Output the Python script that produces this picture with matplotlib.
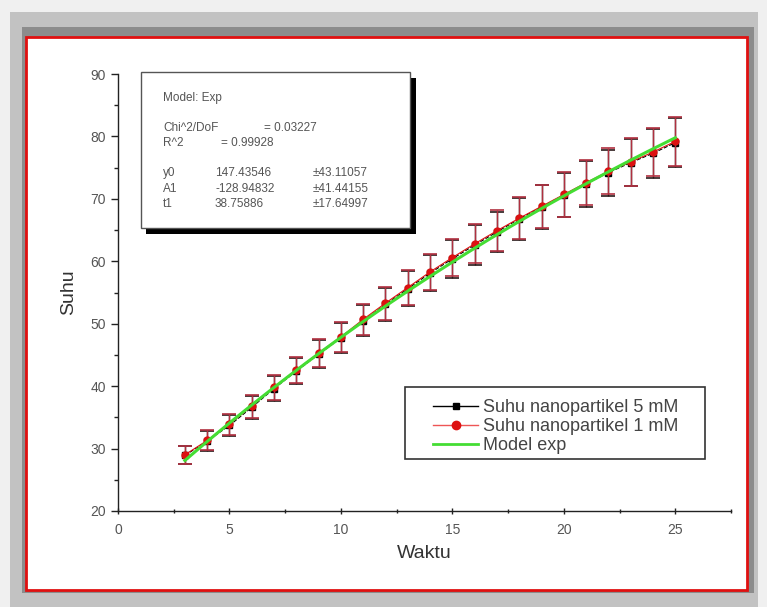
import numpy as np
import matplotlib
matplotlib.use("Agg")
import matplotlib.pyplot as plt
from matplotlib.patches import Rectangle
from matplotlib.lines import Line2D

plt.rcParams['font.family'] = ['Liberation Sans', 'DejaVu Sans']

# waktu (menit) dan suhu hasil pengukuran
waktu = [3, 4, 5, 6, 7, 8, 9, 10, 11, 12, 13, 14, 15, 16, 17, 18, 19, 20, 21, 22, 23, 24, 25]
suhu_5mM = [28.9, 31.2, 33.7, 36.6, 39.6, 42.4, 45.1, 47.7, 50.5, 53.1, 55.6, 58.1, 60.4,
            62.6, 64.7, 66.8, 68.7, 70.6, 72.4, 74.2, 75.8, 77.3, 79.0]
suhu_1mM = [29.0, 31.3, 33.9, 36.8, 39.8, 42.6, 45.3, 47.9, 50.7, 53.3, 55.8, 58.3, 60.6,
            62.8, 64.9, 66.9, 68.8, 70.7, 72.6, 74.4, 75.9, 77.5, 79.2]
galat = [1.45, 1.6, 1.7, 1.85, 2.0, 2.1, 2.25, 2.4, 2.5, 2.65, 2.8, 2.9, 3.0,
         3.15, 3.25, 3.35, 3.45, 3.55, 3.65, 3.7, 3.8, 3.9, 3.95]

# parameter fit model eksponensial
y0, A1, t1 = 147.43546, -128.94832, 38.75886
chi2 = 0.03227
r2 = 0.99928
galat_param = [43.11057, 41.44155, 17.64997]

label_seri = ['Suhu nanopartikel 5 mM', 'Suhu nanopartikel 1 mM', 'Model exp']

W, H = 767, 607
fig = plt.figure(figsize=(W / 100, H / 100), dpi=100)
fig.patch.set_facecolor('#f0f0f0')


def kotak(x0, y0_, x1, y1, **kw):
    # kotak dalam koordinat piksel (y dari atas)
    r = Rectangle((x0 / W, 1 - y1 / H), (x1 - x0) / W, (y1 - y0_) / H,
                  transform=fig.transFigure, **kw)
    fig.patches.append(r)
    return r


# bingkai abu-abu dan bingkai merah
kotak(10, 12, 758, 607, facecolor='#c2c2c2', edgecolor='none', zorder=-10)
kotak(22, 27, 754, 593, facecolor='#8c8c8c', edgecolor='none', zorder=-9)
kotak(26, 37, 747, 590, facecolor='white', edgecolor='#e01010', lw=2, zorder=-8)

ax = fig.add_axes([118 / W, 1 - 511 / H, (731 - 118) / W, (511 - 74) / H])
ax.set_facecolor('none')

x = np.array(waktu)
xm = np.linspace(3, 25, 200)
ym = y0 + A1 * np.exp(-xm / t1)

ax.errorbar(x, suhu_5mM, yerr=galat, fmt='s--', color='black', ms=4, lw=0.8,
            ecolor='#2a1a1a', elinewidth=1, capsize=5, capthick=1.2, zorder=3)
ax.errorbar(x, suhu_1mM, yerr=galat, fmt='o-', color='#dd1111', ms=5, lw=0.8,
            ecolor='#b03040', elinewidth=1, capsize=5, capthick=1.2, zorder=4)
ax.plot(xm, ym, color='#44dd33', lw=2.2, zorder=5)

ax.set_xlim(0, 27.5)
ax.set_ylim(20, 90)
ax.set_xticks([0, 5, 10, 15, 20, 25])
ax.set_xticks(np.arange(2.5, 27.6, 5), minor=True)
ax.set_yticks(np.arange(20, 91, 10))
ax.set_yticks(np.arange(25, 90, 10), minor=True)
for s in ['top', 'right']:
    ax.spines[s].set_visible(False)
for s in ['left', 'bottom']:
    ax.spines[s].set_linewidth(1.0)
    ax.spines[s].set_color('#222222')
ax.tick_params(axis='both', which='major', length=5, width=1, color='#222222',
               labelsize=10, labelcolor='#555555')
ax.tick_params(axis='both', which='minor', length=3, width=1, color='#222222')
ax.tick_params(axis='x', which='both', direction='inout', pad=6)
ax.set_xlabel('Waktu', fontsize=14, color='#333333', labelpad=6)
ax.set_ylabel('Suhu', fontsize=14, color='#333333', labelpad=10)

# legenda: bingkai digambar sendiri
kotak(405, 387, 705, 459, facecolor='white', edgecolor='#333333', lw=1.2, zorder=5)
h = [Line2D([], [], color='black', lw=1, marker='s', ms=5),
     Line2D([], [], color='#ee5555', lw=1, marker='o', ms=6, mfc='#dd1111', mec='#dd1111'),
     Line2D([], [], color='#44dd33', lw=2)]
leg = fig.legend(h, label_seri, loc='upper left', bbox_to_anchor=(433 / W, 1 - 399 / H),
                 bbox_transform=fig.transFigure, borderaxespad=0, borderpad=0,
                 frameon=False, fontsize=13, handlelength=2.5, labelspacing=0.12,
                 handletextpad=0.25)
leg.set_zorder(6)
for t in leg.get_texts():
    t.set_color('#444444')

# kotak keterangan hasil fit
kotak(146, 78, 416, 234, facecolor='black', edgecolor='none', zorder=5)
kotak(141, 72, 410, 228, facecolor='white', edgecolor='#555555', lw=1, zorder=6)


def tulis(px, py, s):
    fig.text(px / W, 1 - py / H, s, fontsize=8.5, color='#555555', va='center',
             ha='left', zorder=7)


tulis(163, 98, 'Model: Exp')
tulis(163, 128, 'Chi^2/DoF')
tulis(264, 128, '= %.5f' % chi2)
tulis(163, 143, 'R^2')
tulis(221, 143, '= %.5f' % r2)
baris = [('y0', y0), ('A1', A1), ('t1', t1)]
for i, (nama, nilai) in enumerate(baris):
    py = 173 + i * 15.5
    tulis(163, py, nama)
    tulis(215, py, '%.5f' % nilai)
    tulis(313, py, '\u00b1%.5f' % galat_param[i])

fig.savefig('out.png', dpi=100, facecolor=fig.get_facecolor())
